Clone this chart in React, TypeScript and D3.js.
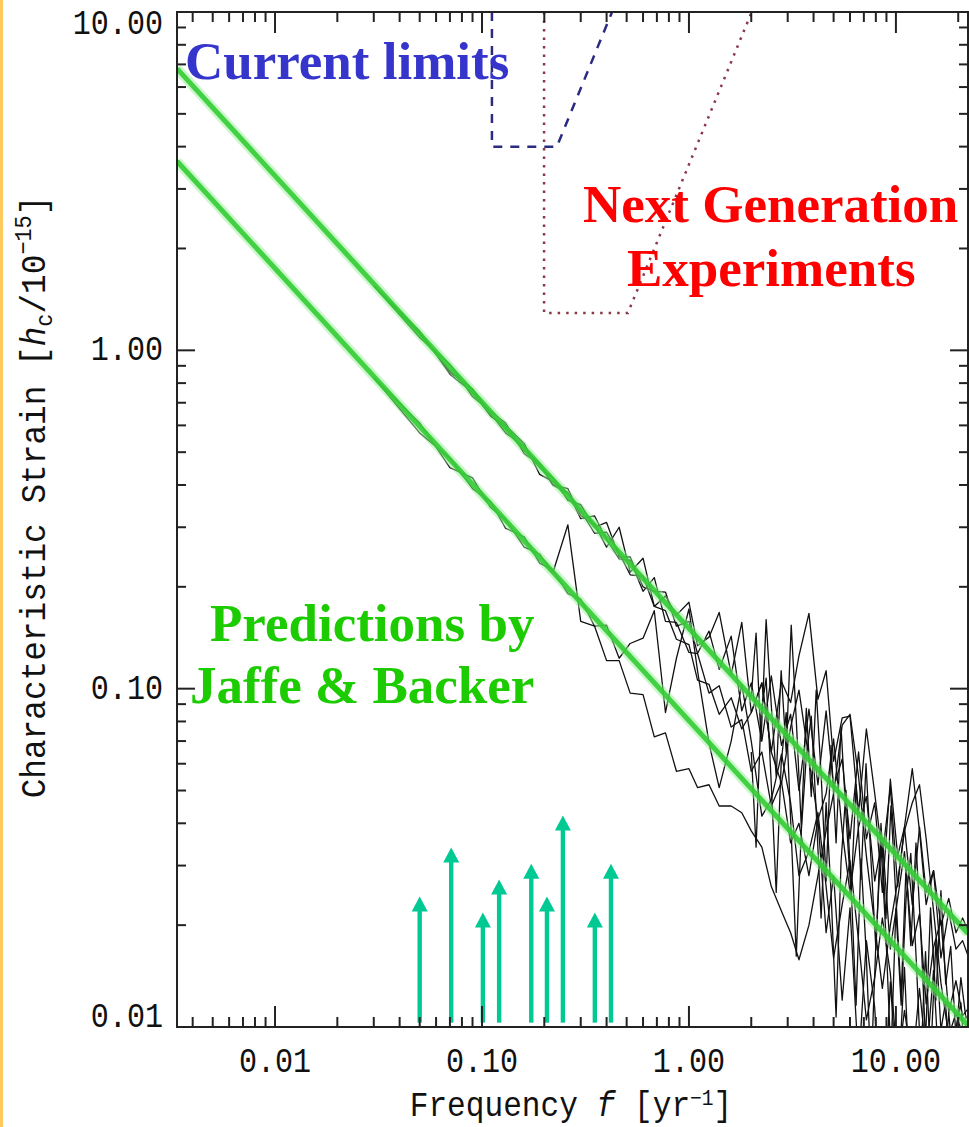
import React from "react";
import * as d3 from "d3";

// axis labels
const X_TICK_LABELS = [0.01, 0.1, 1, 10];
const Y_TICK_LABELS = [0.01, 0.1, 1, 10];

// frequency bins (yr^-1) shared by the simulated spectra
const SPECTRUM_FREQ = [
  0.03, 0.05, 0.07, 0.09, 0.11, 0.13, 0.16, 0.19, 0.22, 0.26, 0.3, 0.35, 0.4, 0.46, 0.52, 0.6, 0.68,
  0.77, 0.87, 1.0, 1.1, 1.25, 1.4, 1.6, 1.8, 2.0, 2.25, 2.5, 2.8, 3.1, 3.4, 3.8, 4.2, 4.6, 5.0, 5.5,
  6.0, 6.6, 7.2, 7.9, 8.6, 9.4, 10.2, 11, 12, 13, 14, 15.2, 16.5, 18, 19.5, 21, 22.5,
];

// characteristic strain of each realization (units of 1e-15)
const SPECTRUM_1 = [
  1.55, 1.13, 0.86, 0.77, 0.65, 0.57, 0.52, 0.45, 0.42, 0.36, 0.35, 0.3, 0.31, 0.245, 0.245, 0.2, 0.194,
  0.193, 0.153, 0.158, 0.127, 0.148, 0.114, 0.143, 0.086, 0.104, 0.07, 0.109, 0.068, 0.084, 0.05, 0.087,
  0.052, 0.086, 0.051, 0.062, 0.036, 0.065, 0.036, 0.046, 0.025, 0.054, 0.032, 0.039, 0.023, 0.039, 0.025,
  0.029, 0.02, 0.024, 0.019, 0.021, 0.019,
];
const SPECTRUM_2 = [
  1.55, 1.09, 0.91, 0.73, 0.66, 0.61, 0.495, 0.46, 0.4, 0.39, 0.325, 0.306, 0.262, 0.3, 0.221, 0.243,
  0.175, 0.188, 0.165, 0.18, 0.134, 0.142, 0.168, 0.11, 0.157, 0.085, 0.104, 0.065, 0.105, 0.091, 0.125,
  0.167, 0.093, 0.113, 0.061, 0.082, 0.083, 0.043, 0.076, 0.049, 0.032, 0.051, 0.026, 0.039, 0.058, 0.038,
  0.023, 0.029, 0.016, 0.022, 0.017, 0.018, 0.016,
];
const SPECTRUM_3 = [
  1.55, 1.14, 0.85, 0.75, 0.64, 0.6, 0.53, 0.43, 0.41, 0.38, 0.318, 0.324, 0.276, 0.242, 0.24, 0.194,
  0.213, 0.158, 0.157, 0.128, 0.127, 0.097, 0.102, 0.077, 0.081, 0.057, 0.065, 0.045, 0.053, 0.035, 0.04,
  0.028, 0.041, 0.019, 0.028, 0.012, 0.0225, 0.0077, 0.018, 0.0114, 0.0043, 0.0136, 0.0064, 0.015, 0.0044,
  0.0095, 0.0078, 0.0147, 0.0058, 0.011, 0.0063, 0.0089, 0.0076,
];
const SPECTRUM_4 = [
  0.83, 0.61, 0.45, 0.42, 0.343, 0.316, 0.262, 0.25, 0.22, 0.305, 0.158, 0.153, 0.121, 0.121, 0.097,
  0.096, 0.072, 0.074, 0.057, 0.058, 0.051, 0.052, 0.045, 0.045, 0.043, 0.038, 0.034, 0.026, 0.022, 0.019,
  0.0158, 0.02, 0.028, 0.038, 0.049, 0.078, 0.084, 0.055, 0.032, 0.02, 0.013, 0.02, 0.027, 0.038, 0.046,
  0.052, 0.036, 0.022, 0.0135, 0.0094, 0.011, 0.0095, 0.01,
];
const SPECTRUM_5 = [
  0.83, 0.57, 0.48, 0.39, 0.357, 0.298, 0.281, 0.235, 0.224, 0.191, 0.184, 0.153, 0.154, 0.123, 0.136,
  0.141, 0.17, 0.085, 0.123, 0.172, 0.113, 0.069, 0.051, 0.07, 0.103, 0.07, 0.042, 0.047, 0.064, 0.046,
  0.028, 0.033, 0.043, 0.026, 0.016, 0.023, 0.031, 0.018, 0.0105, 0.014, 0.021, 0.0144, 0.0077, 0.0112,
  0.0077, 0.013, 0.0083, 0.0046, 0.0074, 0.0094, 0.006, 0.0074, 0.006,
];
const SPECTRUM_6 = [
  1.55, 1.12, 0.87, 0.765, 0.64, 0.59, 0.505, 0.464, 0.4, 0.377, 0.335, 0.288, 0.29, 0.252, 0.217, 0.215,
  0.175, 0.17, 0.14, 0.135, 0.106, 0.103, 0.084, 0.094, 0.076, 0.085, 0.104, 0.065, 0.0525, 0.077, 0.099,
  0.062, 0.041, 0.049, 0.071, 0.038, 0.025, 0.039, 0.048, 0.027, 0.036, 0.017, 0.024, 0.033, 0.0174,
  0.0216, 0.0117, 0.0172, 0.0207, 0.011, 0.0137, 0.0108, 0.0114,
];

// finer bins at the high-frequency end
const DENSE_FREQ = [
  2.0, 2.11, 2.23, 2.36, 2.5, 2.64, 2.79, 2.95, 3.12, 3.3, 3.49, 3.69, 3.9, 4.12, 4.35, 4.6, 4.86, 5.14,
  5.43, 5.74, 6.07, 6.42, 6.78, 7.17, 7.58, 8.01, 8.47, 8.95, 9.46, 10.0, 10.6, 11.2, 11.8, 12.5, 13.2,
  13.9, 14.7, 15.6, 16.5, 17.4, 18.4, 19.5, 20.6, 21.8, 23.0,
];
const SPECTRUM_7 = [
  0.0945, 0.146, 0.07, 0.16, 0.089, 0.055, 0.113, 0.065, 0.154, 0.081, 0.039, 0.0875, 0.048, 0.099, 0.056,
  0.027, 0.068, 0.035, 0.077, 0.042, 0.0248, 0.052, 0.0273, 0.06, 0.031, 0.0169, 0.04, 0.0209, 0.045,
  0.0242, 0.0124, 0.03, 0.0174, 0.035, 0.0189, 0.0091, 0.0225, 0.012, 0.0253, 0.0134, 0.0173, 0.0093,
  0.014, 0.0106, 0.0111,
];
const SPECTRUM_8 = [
  0.065, 0.034, 0.084, 0.1075, 0.052, 0.025, 0.06, 0.085, 0.0373, 0.0162, 0.038, 0.063, 0.083, 0.0434,
  0.021, 0.046, 0.025, 0.0107, 0.0307, 0.05, 0.0264, 0.0116, 0.0314, 0.017, 0.0073, 0.018, 0.0346, 0.0186,
  0.0081, 0.0224, 0.0116, 0.024, 0.0326, 0.0164, 0.0079, 0.0167, 0.008, 0.0179, 0.0098, 0.0119, 0.0058,
  0.0099, 0.0118, 0.0071, 0.0089,
];

const SPECTRA: [number[], number[]][] = [
  [SPECTRUM_FREQ, SPECTRUM_1],
  [SPECTRUM_FREQ, SPECTRUM_2],
  [SPECTRUM_FREQ, SPECTRUM_3],
  [SPECTRUM_FREQ, SPECTRUM_4],
  [SPECTRUM_FREQ, SPECTRUM_5],
  [SPECTRUM_FREQ, SPECTRUM_6],
  [DENSE_FREQ, SPECTRUM_7],
  [DENSE_FREQ, SPECTRUM_8],
];

// Jaffe & Backer predictions (h_c ~ f^-2/3), end points
const PREDICTION_FREQ = [0.00336, 22.3];
const PREDICTION_HIGH = [6.8, 0.0189];
const PREDICTION_LOW = [3.62, 0.0101];

// sensitivity curves
const CURRENT_LIMIT_FREQ = [0.1117, 0.1117, 0.23, 0.425];
const CURRENT_LIMIT_H = [10, 4.0, 4.0, 10];
const NEXT_GEN_FREQ = [0.1995, 0.1995, 0.507, 2.01];
const NEXT_GEN_H = [10, 1.29, 1.29, 10];

// individual sources (arrows)
const ARROW_FREQ = [0.05, 0.071, 0.101, 0.121, 0.173, 0.206, 0.246, 0.351, 0.42];
const ARROW_H = [0.0243, 0.0339, 0.0218, 0.0273, 0.0304, 0.0243, 0.0422, 0.0218, 0.0304];
const ARROW_BASE = 0.0103;

const W = 969;
const H = 1127;
const M = { left: 177, right: 968, top: 12, bottom: 1027 };
const MONO = "'Liberation Mono', 'Courier New', monospace";
const SERIF = "'Liberation Serif', 'Times New Roman', serif";

export default function App() {
  const x = d3.scaleLog().domain([0.00336, 22.3]).range([M.left, M.right]);
  const y = d3.scaleLog().domain([0.01, 10]).range([M.bottom, M.top]);
  const line = d3
    .line<[number, number]>()
    .x((d) => x(d[0]))
    .y((d) => y(d[1]));

  const isMajor = (v: number) => Math.abs(Math.log10(v) - Math.round(Math.log10(v))) < 1e-6;
  const xTicks = x.ticks();
  const yTicks = y.ticks();
  const fmt = d3.format(".2f");

  const pairs = (fs: number[], hs: number[]) => fs.map((f, i) => [f, hs[i]] as [number, number]);

  return (
    <svg width={W} height={H} style={{ position: "absolute", left: 0, top: 0, background: "#fff" }}>
      <defs>
        <clipPath id="plot">
          <rect x={M.left} y={M.top} width={M.right - M.left} height={M.bottom - M.top} />
        </clipPath>
      </defs>
      <rect x={0} y={0} width={W} height={H} fill="#fff" />
      <rect x={0} y={0} width={3} height={H} fill="#ffc95e" />

      <g clipPath="url(#plot)">
        {/* noisy spectra */}
        {SPECTRA.map(([fs, hs], i) => (
          <path key={i} d={line(pairs(fs, hs)) || ""} fill="none" stroke="#111" strokeWidth={1.3} strokeLinejoin="round" />
        ))}
        {/* predictions */}
        {[PREDICTION_HIGH, PREDICTION_LOW].map((p, i) => (
          <g key={i}>
            <path d={line(pairs(PREDICTION_FREQ, p)) || ""} fill="none" stroke="#9af09a" strokeOpacity={0.5} strokeWidth={10} />
            <path d={line(pairs(PREDICTION_FREQ, p)) || ""} fill="none" stroke="#33cc33" strokeOpacity={0.9} strokeWidth={5} />
          </g>
        ))}
        {/* sensitivity limits */}
        <path d={line(pairs(CURRENT_LIMIT_FREQ, CURRENT_LIMIT_H)) || ""} fill="none" stroke="#2b2b82" strokeWidth={2.5} strokeDasharray="9 8" />
        <path d={line(pairs(NEXT_GEN_FREQ, NEXT_GEN_H)) || ""} fill="none" stroke="#8a3848" strokeWidth={2.5} strokeDasharray="2.5 6" />
      </g>

      {/* arrows */}
      {ARROW_FREQ.map((f, i) => {
        const ax = x(f);
        const top = y(ARROW_H[i]);
        const base = y(ARROW_BASE);
        return (
          <g key={i} fill="#00c994" stroke="none">
            <rect x={ax - 2.2} y={top + 12} width={4.4} height={base - top - 12} />
            <path d={`M${ax},${top} L${ax + 8},${top + 15} L${ax - 8},${top + 15} Z`} />
          </g>
        );
      })}

      {/* frame */}
      <rect x={M.left} y={M.top} width={M.right - M.left} height={M.bottom - M.top} fill="none" stroke="#222" strokeWidth={2} />

      {/* x ticks (bottom and top) */}
      {xTicks.map((t, i) => {
        const len = isMajor(t) ? 21 : 10;
        const tx = x(t);
        return (
          <g key={i} stroke="#222" strokeWidth={2}>
            <line x1={tx} x2={tx} y1={M.bottom} y2={M.bottom - len} />
            <line x1={tx} x2={tx} y1={M.top} y2={M.top + len} />
          </g>
        );
      })}
      {/* y ticks (left and right) */}
      {yTicks.map((t, i) => {
        const len = isMajor(t) ? 18 : 9;
        const ty = y(t);
        return (
          <g key={i} stroke="#222" strokeWidth={2}>
            <line x1={M.left} x2={M.left + len} y1={ty} y2={ty} />
            <line x1={M.right} x2={M.right - len} y1={ty} y2={ty} />
          </g>
        );
      })}

      {/* tick labels */}
      {X_TICK_LABELS.map((t, i) => (
        <text key={i} transform={`translate(${x(t)},1072) scale(0.86,1)`} textAnchor="middle" fontFamily={MONO} fontSize={35} fill="#111">
          {fmt(t)}
        </text>
      ))}
      {Y_TICK_LABELS.map((t, i) => {
        const cy = Math.min(Math.max(y(t), 24), 1017);
        return (
          <text key={i} transform={`translate(163,${cy + 10}) scale(0.86,1)`} textAnchor="end" fontFamily={MONO} fontSize={35} fill="#111">
            {fmt(t)}
          </text>
        );
      })}

      {/* axis titles */}
      <text transform="translate(571,1116) scale(0.89,1)" textAnchor="middle" fontFamily={MONO} fontSize={35} fill="#111">
        Frequency <tspan fontStyle="italic">f</tspan> [yr
        <tspan dy={-11} fontSize={22}>−1</tspan>
        <tspan dy={11}>]</tspan>
      </text>
      <text transform="translate(45,497) rotate(-90) scale(0.91,1)" textAnchor="middle" fontFamily={MONO} fontSize={36} fill="#111">
        Characteristic Strain [<tspan fontStyle="italic">h</tspan>
        <tspan dy={7} fontSize={24}>c</tspan>
        <tspan dy={-7}>/10</tspan>
        <tspan dy={-14} fontSize={24}>−15</tspan>
        <tspan dy={14}>]</tspan>
      </text>

      {/* annotations */}
      <text x={185} y={79} fontFamily={SERIF} fontWeight="bold" fontSize={53} fill="#3535cc">
        Current limits
      </text>
      <text x={583} y={222} fontFamily={SERIF} fontWeight="bold" fontSize={53} fill="#ff0000">
        Next Generation
      </text>
      <text x={627} y={286} fontFamily={SERIF} fontWeight="bold" fontSize={53} fill="#ff0000">
        Experiments
      </text>
      <text x={210} y={641} fontFamily={SERIF} fontWeight="bold" fontSize={53} fill="#1ccc00">
        Predictions by
      </text>
      <text x={190} y={703} fontFamily={SERIF} fontWeight="bold" fontSize={53} fill="#1ccc00">
        Jaffe &amp; Backer
      </text>
    </svg>
  );
}
